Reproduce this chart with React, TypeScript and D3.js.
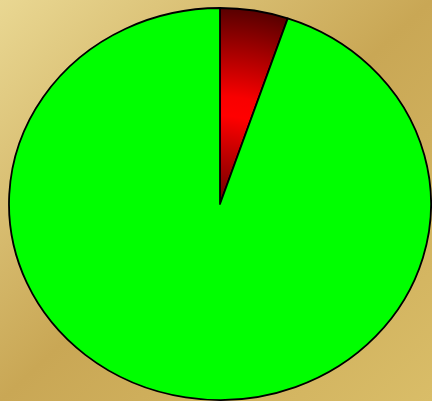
import * as d3 from "d3";

const labels = ["A", "B"];
const values = [5.2, 94.8];

const W = 432;
const H = 401;
const cx = 220;
const cy = 204;
const rx = 211;
const ry = 196;

function App() {
  const pie = d3.pie<number>().sort(null)(values);
  const arc = d3.arc<d3.PieArcDatum<number>>().innerRadius(0).outerRadius(ry);
  const fills = ["url(#redGrad)", "#00ff00"];

  return (
    <svg
      width={W}
      height={H}
      style={{ position: "absolute", left: 0, top: 0, display: "block" }}
    >
      <defs>
        <linearGradient id="bgGrad" x1="0" y1="0" x2="1" y2="1">
          <stop offset="0" stopColor="#e9d792" />
          <stop offset="0.5" stopColor="#c9a755" />
          <stop offset="1" stopColor="#d9bd68" />
        </linearGradient>
        <radialGradient id="redGrad" gradientUnits="userSpaceOnUse" cx={0} cy={0} r={ry}>
          <stop offset="0" stopColor="#6a0000" />
          <stop offset="0.45" stopColor="#ff0000" />
          <stop offset="0.55" stopColor="#f80000" />
          <stop offset="1" stopColor="#580000" />
        </radialGradient>
      </defs>
      <rect x={0} y={0} width={W} height={H} fill="url(#bgGrad)" />
      <g transform={`translate(${cx},${cy}) scale(${rx / ry},1)`}>
        {pie.map((d, i) => (
          <path
            key={labels[i]}
            d={arc(d) || ""}
            fill={fills[i]}
            stroke="#000"
            strokeWidth={1.8}
            strokeLinejoin="round"
            vectorEffect="non-scaling-stroke"
          />
        ))}
      </g>
    </svg>
  );
}

export default App;
